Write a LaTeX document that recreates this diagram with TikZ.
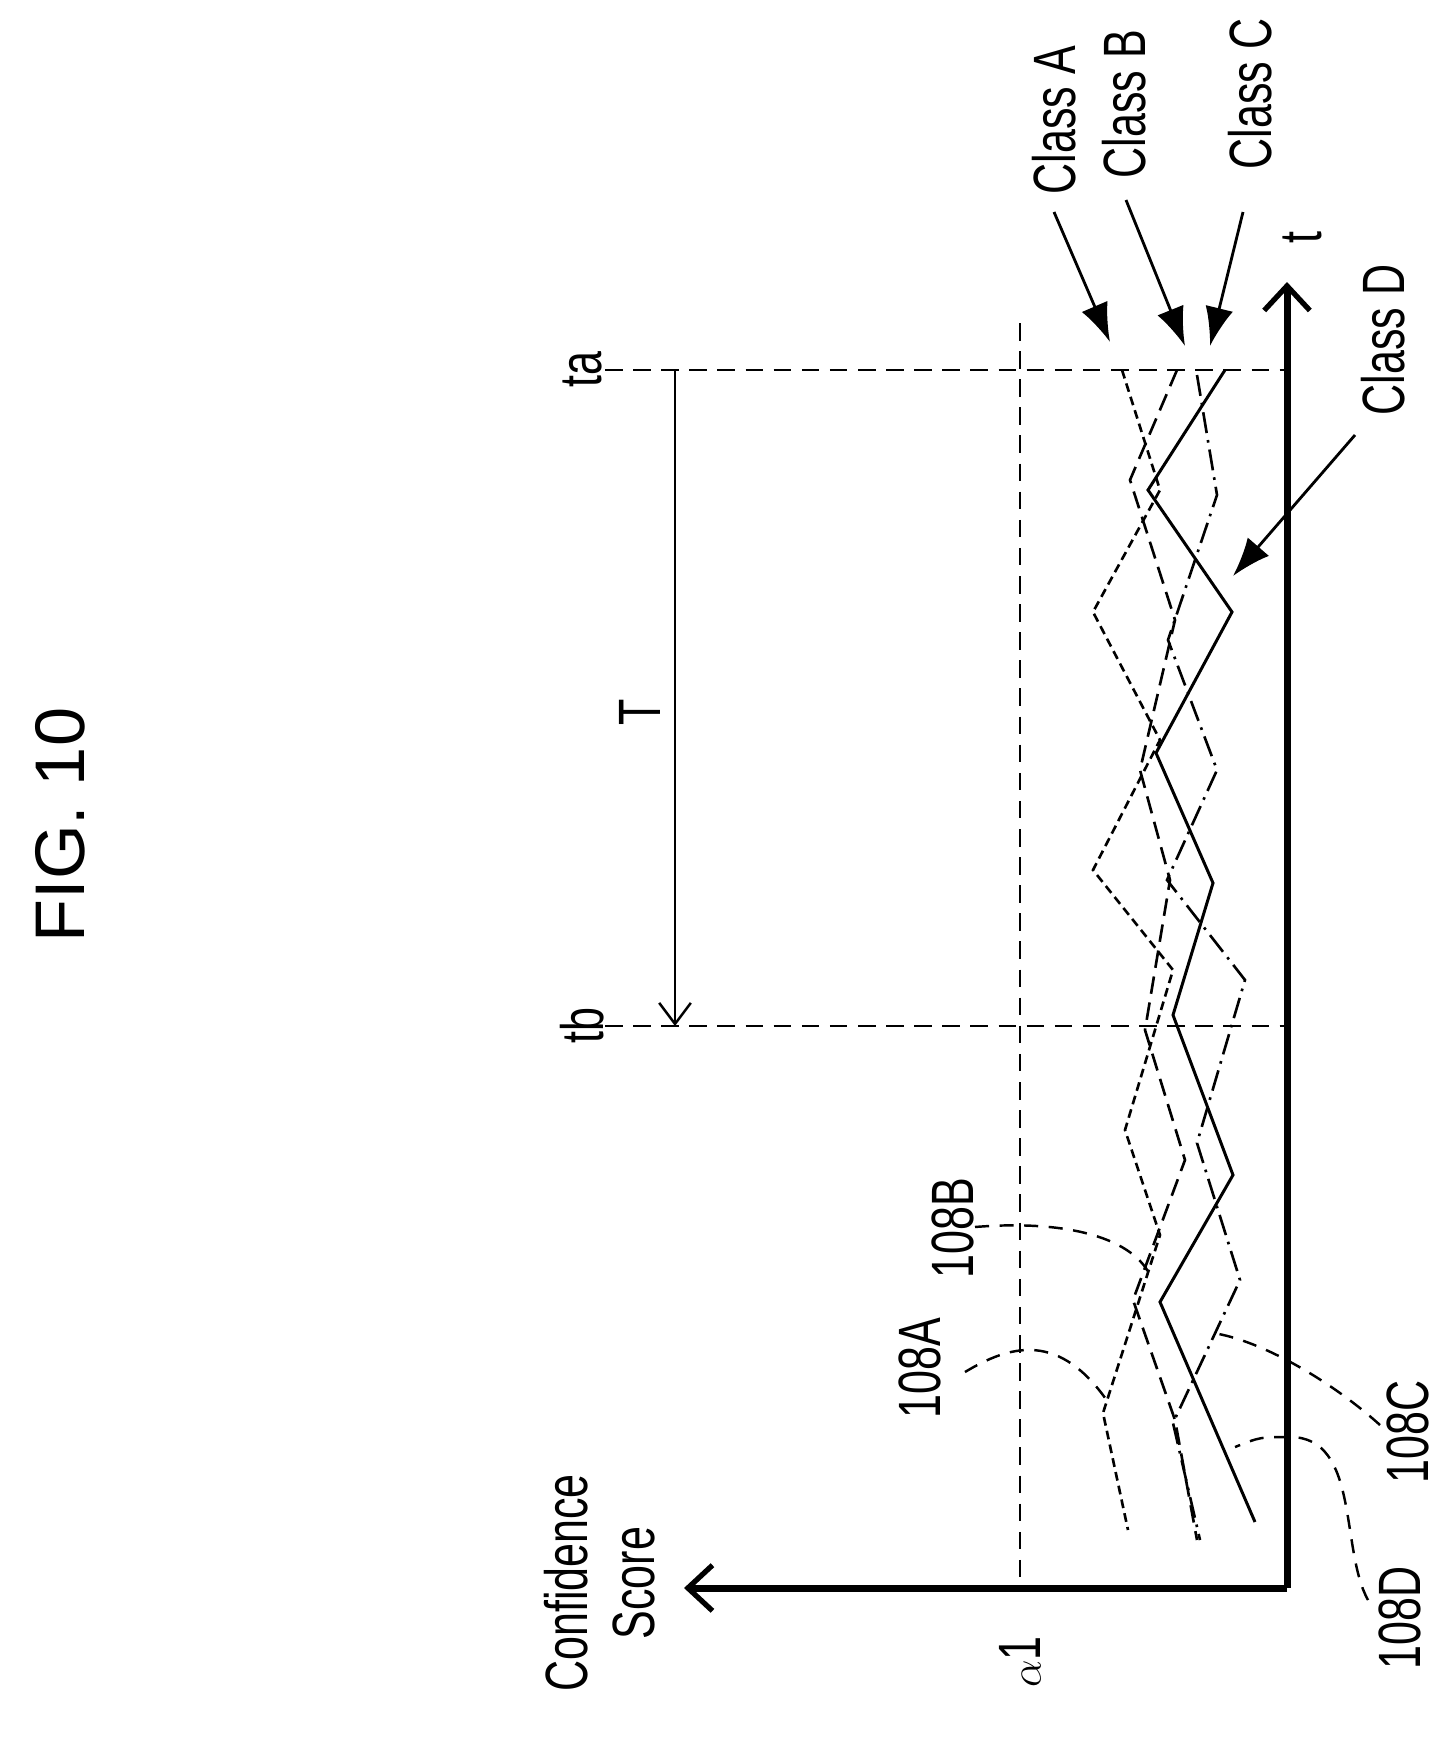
\documentclass[tikz,border=0pt]{standalone}
\usepackage{fontspec}
\setmainfont{Liberation Sans}
\newfontfamily\narrowfont[FakeStretch=0.72]{Liberation Sans}
\usetikzlibrary{calc,arrows.meta}

\begin{document}
\begin{tikzpicture}[x=0.02cm,y=-0.02cm,>=Latex,
    lbl/.style={rotate=90, font=\narrowfont\fontsize{34}{38}\selectfont, inner sep=0pt},
    axis/.style={line width=4pt, -{Straight Barb[length=14pt,width=26pt,line width=3pt]}},
    guide/.style={line width=1.6pt, dash pattern=on 10pt off 6pt},
    leader/.style={line width=1.4pt, dash pattern=on 8pt off 6pt},
    pointer/.style={line width=1.6pt, -{Latex[length=22pt,width=16pt]}},
    curveA/.style={line width=1.5pt, dash pattern=on 5pt off 3pt},
    curveB/.style={line width=1.5pt, dash pattern=on 10pt off 5pt},
    curveC/.style={line width=1.5pt, dash pattern=on 12pt off 4pt on 1.5pt off 4pt},
    curveD/.style={line width=1.7pt}]
  \useasboundingbox (0,0) rectangle (1452,1738);

  % Title
  \node[rotate=90, font=\fontsize{40}{44}\selectfont] (fig) at (60,825) {FIG. 10};

  % Axes
  \coordinate (o) at (1287,1588);
  \coordinate (ttip) at (1287,282);
  \coordinate (stip) at (684,1588);
  \draw[axis] (o) -- (ttip);
  \draw[axis] (o) -- (stip);
  \node[lbl] (tlab) at (1302,238) {t};
  \node[lbl, align=center] (score) at (600,1583) {Confidence\\Score};

  % Threshold and time marks
  \coordinate (a1top) at (1020,323);
  \coordinate (a1bot) at (1020,1588);
  \draw[guide] (a1top) -- (a1bot);
  \node[lbl] (alpha) at (1020,1662) {$\alpha$1};
  \node[lbl] (ta) at (582,370) {ta};
  \node[lbl] (tb) at (582,1026) {tb};
  \coordinate (tastart) at (605,370);
  \coordinate (tbstart) at (605,1026);
  \coordinate (taend) at (1287,370);
  \coordinate (tbend) at (1287,1026);
  \draw[guide] (tastart) -- (taend);
  \draw[guide] (tbstart) -- (tbend);
  \coordinate (Ttop) at (675,370);
  \coordinate (Tbot) at (675,1026);
  \draw[line width=1.4pt, -{Straight Barb[length=12pt,width=18pt,line width=1.4pt]}] (Ttop) -- (Tbot);
  \node[lbl] (Tlab) at (640,712) {T};

  % Confidence score curves
  \draw[curveA] (1122,370) -- (1160,490) -- (1093,612) -- (1160,740) -- (1093,870)
    -- (1173,970) -- (1125,1130) -- (1160,1235) -- (1103,1413) -- (1128,1530);
  \draw[curveB] (1177,370) -- (1130,480) -- (1175,620) -- (1140,770) -- (1170,880)
    -- (1145,1030) -- (1185,1160) -- (1133,1300) -- (1175,1420) -- (1197,1540);
  \draw[curveC] (1197,375) -- (1217,495) -- (1168,640) -- (1217,770) -- (1167,880)
    -- (1245,980) -- (1197,1143) -- (1240,1280) -- (1173,1423) -- (1200,1540);
  \draw[curveD] (1225,370) -- (1148,490) -- (1232,612) -- (1156,753) -- (1213,883)
    -- (1173,1015) -- (1233,1175) -- (1160,1302) -- (1255,1522);

  % Class labels with pointers
  \node[lbl] (clsA) at (1054,120) {Class A};
  \node[lbl] (clsB) at (1124,104) {Class B};
  \node[lbl] (clsC) at (1250,94) {Class C};
  \node[lbl] (clsD) at (1383,340) {Class D};
  \coordinate (sA) at (1054,212);
  \coordinate (sB) at (1126,200);
  \coordinate (sC) at (1243,212);
  \coordinate (sD) at (1355,435);
  \coordinate (ptA) at (1110,342);
  \coordinate (ptB) at (1185,346);
  \coordinate (ptC) at (1210,346);
  \coordinate (ptD) at (1233,576);
  \draw[pointer] (sA) -- (ptA);
  \draw[pointer] (sB) -- (ptB);
  \draw[pointer] (sC) -- (ptC);
  \draw[pointer] (sD) -- (ptD);

  % Reference numerals with leaders
  \node[lbl] (r108A) at (920,1368) {108A};
  \node[lbl] (r108B) at (953,1228) {108B};
  \node[lbl] (r108C) at (1408,1432) {108C};
  \node[lbl] (r108D) at (1400,1618) {108D};
  \coordinate (lA) at (965,1372);
  \coordinate (lB) at (975,1227);
  \coordinate (lC) at (1380,1425);
  \coordinate (lD) at (1368,1600);
  \coordinate (eA) at (1110,1405);
  \coordinate (eB) at (1150,1275);
  \coordinate (eC) at (1213,1333);
  \coordinate (eD) at (1235,1447);
  \draw[leader] (lA) .. controls (1010,1345) and (1060,1330) .. (eA);
  \draw[leader] (lB) .. controls (1060,1220) and (1130,1235) .. (eB);
  \draw[leader] (lC) .. controls (1330,1380) and (1260,1340) .. (eC);
  \draw[leader] (lD) .. controls (1340,1550) and (1360,1437) .. (1290,1437)
    .. controls (1260,1437) .. (eD);
\end{tikzpicture}
\end{document}
